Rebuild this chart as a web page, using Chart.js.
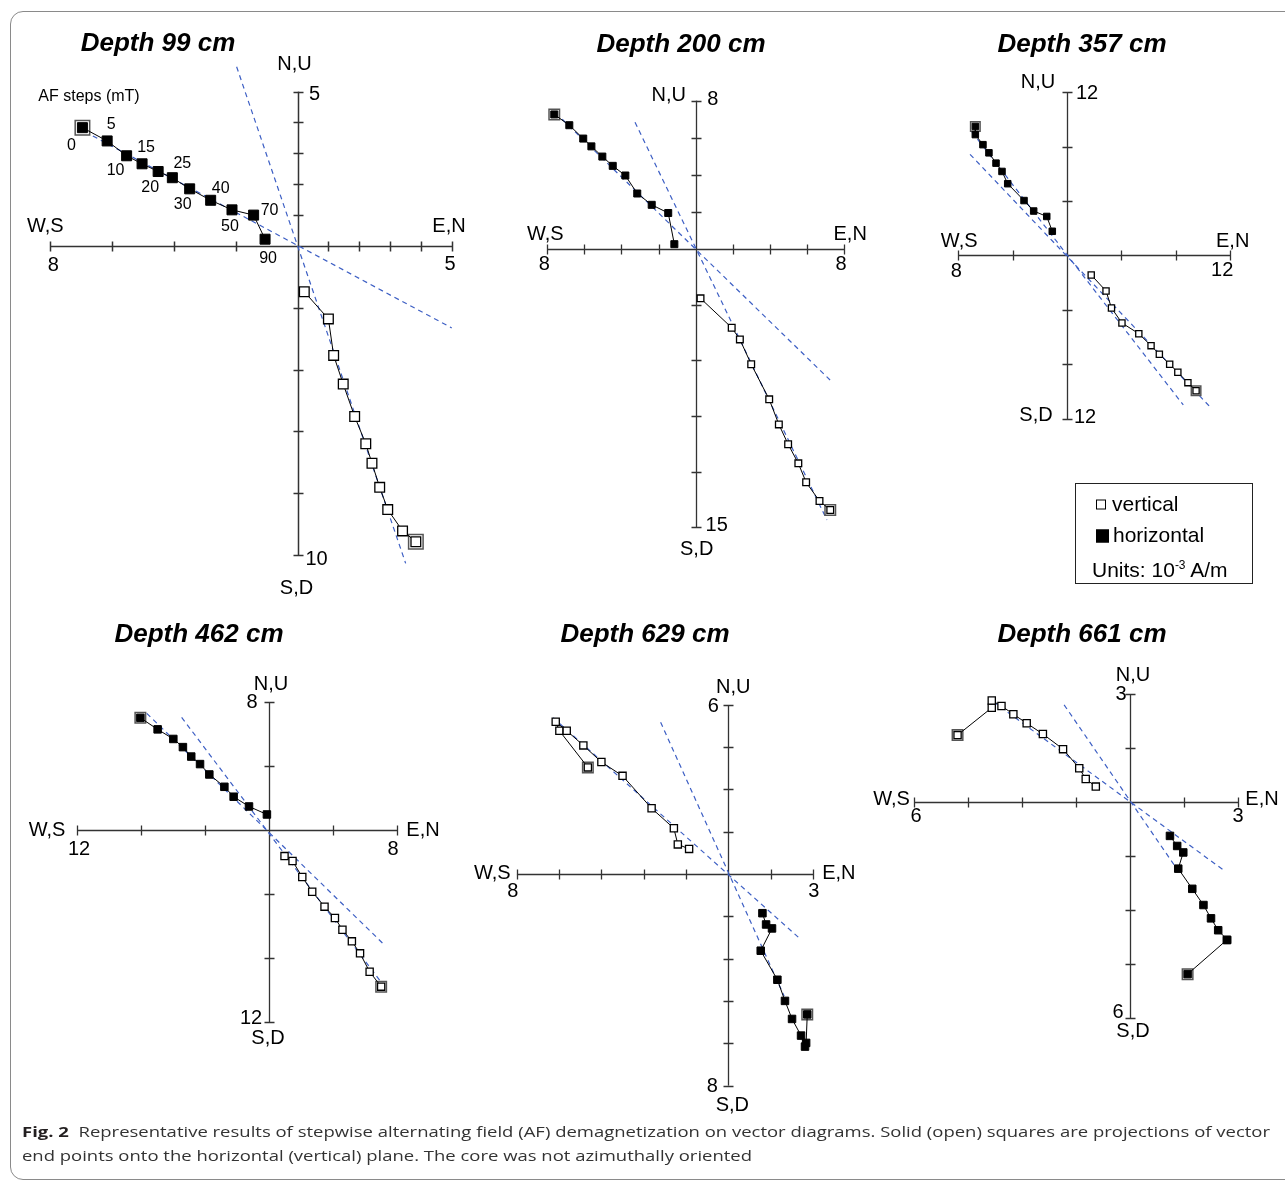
<!DOCTYPE html>
<html lang="en">
<head>
<meta charset="UTF-8">
<title>AF demagnetization vector diagrams</title>
<script src="https://cdn.jsdelivr.net/npm/chart.js@4.4.1/dist/chart.umd.min.js"></script>
<style>
    body { margin: 0; background: #fff; font-family: "Liberation Sans", Arial, sans-serif; }
    #page { position: relative; width: 1285px; height: 1185px; overflow: hidden; background: #fff; }
    #frame { position: absolute; left: 10px; top: 11px; width: 1290px; height: 1169px;
             border: 1.5px solid #8a8a8a; border-radius: 13px; box-sizing: border-box; }
    #zij { position: absolute; left: 0; top: 0; }
    .lbl { position: absolute; white-space: nowrap; line-height: 1; color: #000;
           transform: translate(-50%, -50%); font-size: 20px; }
    .title { font-weight: bold; font-style: italic; font-size: 26px; }
    .step { font-size: 16px; }
    #key { position: absolute; left: 1075px; top: 483px; width: 178px; height: 101px;
           border: 1.2px solid #222; box-sizing: border-box; font-size: 21px; }
    #key .row { position: absolute; left: 0; white-space: nowrap; line-height: 1; transform: translateY(-50%); }
    #key .sym { display: inline-block; width: 10px; height: 10px; box-sizing: border-box;
                border: 1.2px solid #000; margin-right: 6px; vertical-align: 1px; }
    #key .sym.solid { background: #000; width: 13px; height: 13px; margin-right: 4px; vertical-align: -1px; }
    #key sup { font-size: 12px; vertical-align: 8px; line-height: 0; }
    .cap { position: absolute; left: 22px; white-space: nowrap; line-height: 1; font-size: 15px;
           color: #333; transform-origin: 0 50%;
           font-family: "Liberation Sans Narrow", "Open Sans", "Liberation Sans", sans-serif; }
    .cap b { color: #231f20; }
</style>
</head>
<body>
<div id="page">
    <div id="frame"></div>
    <canvas id="zij" width="1285" height="1185"></canvas>
    <div id="labels"></div>
    <div id="key">
        <div class="row" style="left:20px; top:19px;"><span class="sym"></span>vertical</div>
        <div class="row" style="left:20px; top:50px;"><span class="sym solid"></span>horizontal</div>
        <div class="row" style="left:16px; top:85px;">Units: 10<sup>-3</sup> A/m</div>
    </div>
    <div class="cap" id="cap1" data-w="1248" style="top:1131px;"><b>Fig. 2</b>&nbsp; Representative results of stepwise alternating field (AF) demagnetization on vector diagrams. Solid (open) squares are projections of vector</div>
    <div class="cap" id="cap2" data-w="730" style="top:1155px;">end points onto the horizontal (vertical) plane. The core was not azimuthally oriented</div>
</div>

<script>
    // AF demagnetization steps (mT)
    const afSteps = [0, 5, 10, 15, 20, 25, 30, 40, 50, 70, 90];

    // Depth 99 cm  (units 10^-3 A/m)
    const east99  = [-6.96, -6.16, -5.53, -5.03, -4.51, -4.05, -3.49, -2.81, -2.12, -1.42, -1.05];
    const north99 = [3.83, 3.40, 2.92, 2.66, 2.41, 2.21, 1.85, 1.48, 1.17, 1.00, 0.22];
    const up99    = [-9.57, -9.22, -8.53, -7.81, -7.03, -6.40, -5.52, -4.47, -3.54, -2.36, -1.48];
    const fit99   = [[-1.97, 5.80, 3.50, -10.27], [-6.88, 3.70, 4.99, -2.65]];
    const range99 = [8, 5, 5, 10];          // W, E, N/U, S/D
    const step99  = [2, 1, 1, 2];
    const tick99  = ['8', '5', '5', '10'];

    // Depth 200 cm
    const east200  = [-7.62, -6.81, -6.06, -5.62, -5.03, -4.47, -3.79, -3.15, -2.37, -1.48, -1.15];
    const north200 = [7.25, 6.67, 5.95, 5.53, 4.98, 4.48, 3.96, 2.99, 2.38, 1.94, 0.26];
    const up200    = [-14.06, -13.58, -12.57, -11.55, -10.52, -9.45, -8.10, -6.21, -4.87, -4.24, -2.66];
    const fit200   = [[-3.27, 6.83, 7.07, -14.6], [-7.54, 7.33, 7.24, -7.06]];
    const range200 = [8, 8, 8, 15];
    const step200  = [2, 2, 2, 3];
    const tick200  = ['8', '8', '8', '15'];

    // Depth 357 cm
    const east357  = [-6.74, -6.74, -6.18, -5.74, -5.22, -4.78, -4.36, -3.16, -2.45, -1.49, -1.08];
    const north357 = [9.49, 8.89, 8.15, 7.55, 6.79, 6.18, 5.28, 4.04, 3.27, 2.87, 1.78];
    const up357    = [-9.94, -9.35, -8.59, -8.00, -7.26, -6.63, -5.75, -4.96, -3.86, -2.61, -1.43];
    const fit357   = [[-6.99, 9.08, 8.55, -10.99], [-7.13, 7.44, 10.51, -11.12]];
    const range357 = [8, 12, 12, 12];
    const step357  = [4, 4, 4, 4];
    const tick357  = ['8', '12', '12', '12'];

    // Depth 462 cm
    const east462  = [-8.04, -6.96, -5.98, -5.38, -4.86, -4.31, -3.73, -2.79, -2.21, -1.25, -0.13];
    const north462 = [7.01, 6.29, 5.69, 5.18, 4.59, 4.12, 3.47, 2.70, 2.08, 1.47, 0.97];
    const up462    = [-9.79, -8.86, -7.71, -6.96, -6.23, -5.50, -4.79, -3.86, -2.94, -1.94, -1.63];
    const fit462   = [[-5.46, 7.04, 7.14, -9.69], [-7.64, 7.29, 7.14, -7.11]];
    const range462 = [12, 8, 8, 12];
    const step462  = [4, 4, 4, 4];
    const tick462  = ['12', '8', '8', '12'];

    // Depth 629 cm
    const east629  = [2.80, 2.76, 2.72, 2.58, 2.26, 2.01, 1.74, 1.15, 1.55, 1.34, 1.21];
    const north629 = [-4.98, -5.99, -6.12, -5.73, -5.14, -4.50, -3.75, -2.72, -1.93, -1.79, -1.39];
    const up629    = [3.78, 5.08, 5.40, 5.08, 4.56, 3.97, 3.48, 2.33, 1.62, 1.05, 0.89];
    const fit629   = [[-2.40, 5.38, 1.98, -4.33], [-6.21, 5.54, 2.48, -2.24]];
    const range629 = [7.5, 3, 6, 7.5];
    const step629  = [1.5, 1.5, 1.5, 1.5];
    const tick629  = ['8', '3', '6', '8'];

    // Depth 661 cm
    const east661  = [1.60, 2.69, 2.70, 2.45, 2.25, 2.04, 1.73, 1.34, 1.48, 1.31, 1.11];
    const north661 = [-4.79, -3.84, -3.84, -3.57, -3.24, -2.87, -2.42, -1.86, -1.41, -1.23, -0.95];
    const up661    = [1.85, 2.61, 2.81, 2.66, 2.43, 2.18, 1.88, 1.46, 0.93, 0.63, 0.42];
    const fit661   = [[-1.83, 2.69, 1.25, -1.79], [-3.80, 2.78, 2.64, -1.93]];
    const range661 = [6, 3, 3, 6];
    const step661  = [1.5, 1.5, 1.5, 1.5];
    const tick661  = ['6', '3', '3', '6'];

    // placement of each diagram on the page: origin pixel, pixels per unit, marker sizes, label offsets
    const panels = [
        { title: 'Depth 99 cm', titleAt: [158, 42], east: east99, north: north99, up: up99, fit: fit99,
          range: range99, step: step99, tick: tick99, origin: [297.5, 246], k: 30.9, mark: 11, nrm: 16, axisW: 1.5,
          off: { ws: [-5, -21], wsNum: [3, 17.5], en: [-3, -21], enNum: [-2, 17], nu: [-3, -29], nuNum: [17, 1], sdNum: [19, 3], sd: [-1, 32] } },
        { title: 'Depth 200 cm', titleAt: [681, 43], east: east200, north: north200, up: up200, fit: fit200,
          range: range200, step: step200, tick: tick200, origin: [695.7, 249], k: 18.56, mark: 8, nrm: 12, axisW: 1.3,
          off: { ws: [-2, -16], wsNum: [-3, 14], en: [6, -16], enNum: [-3, 14], nu: [-27, -7], nuNum: [17, -3], sdNum: [21, -3], sd: [1, 21] } },
        { title: 'Depth 357 cm', titleAt: [1082, 43], east: east357, north: north357, up: up357, fit: fit357,
          range: range357, step: step357, tick: tick357, origin: [1067, 255.5], k: 13.6, mark: 7.5, nrm: 11, axisW: 1.3,
          off: { ws: [1, -15.5], wsNum: [-2, 14], en: [2.5, -15.5], enNum: [-8, 13], nu: [-29, -11], nuNum: [20, 0], sdNum: [18, -3], sd: [-31, -5] } },
        { title: 'Depth 462 cm', titleAt: [199, 633], east: east462, north: north462, up: up462, fit: fit462,
          range: range462, step: step462, tick: tick462, origin: [269, 830], k: 16, mark: 8.5, nrm: 12, axisW: 1.3,
          off: { ws: [-30, -1], wsNum: [2, 18], en: [26, -1], enNum: [-4, 18], nu: [2, -19], nuNum: [-17, -1], sdNum: [-18, -5], sd: [-1, 15] } },
        { title: 'Depth 629 cm', titleAt: [645, 633], east: east629, north: north629, up: up629, fit: fit629,
          range: range629, step: step629, tick: tick629, origin: [728.3, 874], k: 28.2, mark: 8.5, nrm: 12, axisW: 1.3,
          off: { ws: [-24.5, -2], wsNum: [-4, 16], en: [26, -2], enNum: [1, 16], nu: [5, -19], nuNum: [-15, 0], sdNum: [-16, -1], sd: [4, 18] } },
        { title: 'Depth 661 cm', titleAt: [1082, 633], east: east661, north: north661, up: up661, fit: fit661,
          range: range661, step: step661, tick: tick661, origin: [1130, 801.7], k: 36, mark: 8.5, nrm: 12, axisW: 1.3,
          off: { ws: [-22.5, -4], wsNum: [2, 13], en: [24, -4], enNum: [0, 13], nu: [3, -20], nuNum: [-9, -1], sdNum: [-12, -7], sd: [3, 12] } }
    ];

    // AF step labels next to the horizontal points of the 99 cm diagram (pixel offsets from each point)
    const afLabelOff = [[-11, 17], [4, -17], [-11, 14], [4, -17], [-8, 15], [10, -15], [-7, 15], [10, -12], [-2, 16], [16, -5], [3, 19]];

    const W = 1285, H = 1185;
    const fitColor = '#3d5fc4';

    // chart.js 'rect' point: side = radius * sqrt(2)
    function rad(side, bw) { return (side - bw) / Math.SQRT2; }

    const datasets = [];
    const scales = {};
    panels.forEach((p, i) => {
        const xid = 'x' + i, yid = 'y' + i;
        scales[xid] = { type: 'linear', display: false, min: -p.origin[0] / p.k, max: (W - p.origin[0]) / p.k };
        scales[yid] = { type: 'linear', display: false, min: -(H - p.origin[1]) / p.k, max: p.origin[1] / p.k };

        const horiz = p.east.map((e, j) => ({ x: e, y: p.north[j] }));
        const vert = p.north.map((n, j) => ({ x: n, y: p.up[j] }));

        // horizontal plane projection (solid)
        datasets.push({
            data: horiz, xAxisID: xid, yAxisID: yid, showLine: true, order: 0,
            borderColor: '#000', borderWidth: 1,
            pointStyle: 'rect', pointRadius: rad(p.mark, 1), pointBackgroundColor: '#000',
            pointBorderColor: '#000', pointBorderWidth: 1
        });
        // vertical plane projection (open)
        datasets.push({
            data: vert, xAxisID: xid, yAxisID: yid, showLine: true, order: 0,
            borderColor: '#000', borderWidth: 1,
            pointStyle: 'rect', pointRadius: rad(p.mark, 1.3), pointBackgroundColor: '#fff',
            pointBorderColor: '#000', pointBorderWidth: 1.3
        });
        // NRM (0 mT) step: outer box
        datasets.push({
            data: [horiz[0], vert[0]], xAxisID: xid, yAxisID: yid, showLine: false, order: 1,
            pointStyle: 'rect', pointRadius: rad(p.nrm, 1.5), pointBackgroundColor: '#fff',
            pointBorderColor: '#555', pointBorderWidth: 1.5
        });
        // fitted directions
        p.fit.forEach(f => {
            datasets.push({
                data: [{ x: f[0], y: f[1] }, { x: f[2], y: f[3] }], xAxisID: xid, yAxisID: yid,
                showLine: true, order: 2, borderColor: fitColor, borderWidth: 1.2, borderDash: [5, 4],
                pointRadius: 0
            });
        });
    });

    // axes crossing at the origin, with tick marks
    const crossAxes = {
        id: 'crossAxes',
        beforeDatasetsDraw(chart) {
            const ctx = chart.ctx;
            panels.forEach((p, i) => {
                const xs = chart.scales['x' + i], ys = chart.scales['y' + i];
                const ox = Math.round(xs.getPixelForValue(0)) + 0.5;
                const oy = Math.round(ys.getPixelForValue(0)) + 0.5;
                const [w, e, n, s] = p.range;
                ctx.save();
                ctx.strokeStyle = '#333';
                ctx.lineWidth = p.axisW;
                ctx.beginPath();
                ctx.moveTo(xs.getPixelForValue(-w), oy);
                ctx.lineTo(xs.getPixelForValue(e), oy);
                ctx.moveTo(ox, ys.getPixelForValue(n));
                ctx.lineTo(ox, ys.getPixelForValue(-s));
                const t = 5;
                for (let v = p.step[0]; v <= w + 1e-6; v += p.step[0]) {
                    const px = Math.round(xs.getPixelForValue(-v)) + 0.5;
                    ctx.moveTo(px, oy - t); ctx.lineTo(px, oy + t);
                }
                for (let v = p.step[1]; v <= e + 1e-6; v += p.step[1]) {
                    const px = Math.round(xs.getPixelForValue(v)) + 0.5;
                    ctx.moveTo(px, oy - t); ctx.lineTo(px, oy + t);
                }
                for (let v = p.step[2]; v <= n + 1e-6; v += p.step[2]) {
                    const py = Math.round(ys.getPixelForValue(v)) + 0.5;
                    ctx.moveTo(ox - t, py); ctx.lineTo(ox + t, py);
                }
                for (let v = p.step[3]; v <= s + 1e-6; v += p.step[3]) {
                    const py = Math.round(ys.getPixelForValue(-v)) + 0.5;
                    ctx.moveTo(ox - t, py); ctx.lineTo(ox + t, py);
                }
                ctx.stroke();
                ctx.restore();
            });
        }
    };

    const chart = new Chart(document.getElementById('zij'), {
        type: 'scatter',
        data: { datasets: datasets },
        options: {
            responsive: false,
            animation: false,
            devicePixelRatio: 1,
            events: [],
            layout: { padding: 0, autoPadding: false },
            scales: scales,
            plugins: { legend: { display: false }, tooltip: { enabled: false } }
        },
        plugins: [crossAxes]
    });

    // text: titles, axis names, end values, AF steps
    const layer = document.getElementById('labels');
    function place(text, x, y, cls) {
        const d = document.createElement('div');
        d.className = 'lbl' + (cls ? ' ' + cls : '');
        d.textContent = text;
        d.style.left = x + 'px';
        d.style.top = y + 'px';
        layer.appendChild(d);
    }

    panels.forEach((p, i) => {
        const xs = chart.scales['x' + i], ys = chart.scales['y' + i];
        const ox = xs.getPixelForValue(0), oy = ys.getPixelForValue(0);
        const left = xs.getPixelForValue(-p.range[0]), right = xs.getPixelForValue(p.range[1]);
        const top = ys.getPixelForValue(p.range[2]), bottom = ys.getPixelForValue(-p.range[3]);
        const o = p.off;
        place(p.title, p.titleAt[0], p.titleAt[1], 'title');
        place('W,S', left + o.ws[0], oy + o.ws[1]);
        place(p.tick[0], left + o.wsNum[0], oy + o.wsNum[1]);
        place('E,N', right + o.en[0], oy + o.en[1]);
        place(p.tick[1], right + o.enNum[0], oy + o.enNum[1]);
        place('N,U', ox + o.nu[0], top + o.nu[1]);
        place(p.tick[2], ox + o.nuNum[0], top + o.nuNum[1]);
        place(p.tick[3], ox + o.sdNum[0], bottom + o.sdNum[1]);
        place('S,D', ox + o.sd[0], bottom + o.sd[1]);
    });

    // AF step values beside the 99 cm horizontal points
    {
        const p = panels[0];
        const xs = chart.scales.x0, ys = chart.scales.y0;
        place('AF steps (mT)', 89, 95.5, 'step');
        afSteps.forEach((s, j) => {
            const px = xs.getPixelForValue(p.east[j]), py = ys.getPixelForValue(p.north[j]);
            place(String(s), px + afLabelOff[j][0], py + afLabelOff[j][1], 'step');
        });
    }

    // squeeze the caption lines to the width they take in the figure
    document.querySelectorAll('.cap').forEach(el => {
        const target = +el.dataset.w;
        const w = el.getBoundingClientRect().width;
        el.style.transform = 'translateY(-50%) scaleX(' + (target / w) + ')';
    });
</script>
</body>
</html>
